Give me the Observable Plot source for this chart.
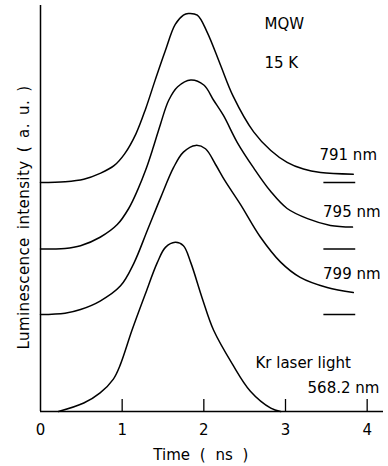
<!DOCTYPE html>
<html>
<head>
<meta charset="utf-8">
<script src="https://cdn.jsdelivr.net/npm/d3@7"></script>
<script src="https://cdn.jsdelivr.net/npm/@observablehq/plot@0.6"></script>
<style>
  html, body { margin: 0; padding: 0; background: #fff; }
  svg { display: block; }
</style>
</head>
<body>
<div id="chart"></div>
<script>
// ---- data ----
const seriesNames = ["791 nm", "795 nm", "799 nm", "Kr laser light"];
const offsets = [1.353, 0.960, 0.573, 0];   // vertical offset of each trace (a.u.)

const t791 = [0, 0.30, 0.53, 0.73, 0.90, 1.03, 1.17, 1.29, 1.40, 1.525, 1.65, 1.75, 1.81, 1.92, 2.04, 2.20, 2.36, 2.61, 2.82, 3.02, 3.22, 3.43, 3.83];
const v791 = [0, 0.005, 0.02, 0.055, 0.10, 0.17, 0.29, 0.44, 0.60, 0.775, 0.935, 0.99, 1.00, 0.99, 0.89, 0.70, 0.51, 0.30, 0.19, 0.12, 0.08, 0.06, 0.05];

const t795 = [0, 0.30, 0.49, 0.73, 0.94, 1.08, 1.19, 1.29, 1.38, 1.47, 1.57, 1.68, 1.84, 2.00, 2.12, 2.24, 2.41, 2.61, 2.82, 3.02, 3.27, 3.55, 3.82];
const v795 = [0, 0.004, 0.02, 0.07, 0.145, 0.24, 0.35, 0.47, 0.60, 0.74, 0.88, 0.96, 1.00, 0.97, 0.88, 0.79, 0.63, 0.48, 0.34, 0.24, 0.18, 0.14, 0.13];

const t799 = [0, 0.30, 0.49, 0.73, 0.98, 1.14, 1.31, 1.47, 1.63, 1.75, 1.90, 2.02, 2.14, 2.26, 2.45, 2.69, 2.94, 3.18, 3.51, 3.83];
const v799 = [0, 0.008, 0.03, 0.08, 0.17, 0.30, 0.50, 0.69, 0.87, 0.96, 1.00, 0.98, 0.89, 0.79, 0.65, 0.46, 0.31, 0.22, 0.16, 0.13];

const tKr = [0.22, 0.53, 0.73, 0.89, 0.98, 1.12, 1.28, 1.43, 1.53, 1.65, 1.75, 1.84, 1.98, 2.12, 2.35, 2.57, 2.82, 2.94];
const vKr = [0, 0.05, 0.11, 0.19, 0.28, 0.48, 0.69, 0.88, 0.97, 1.00, 0.98, 0.88, 0.67, 0.48, 0.28, 0.12, 0.02, 0];

const xTicks = [0, 1, 2, 3, 4];
const xTickMarks = [1, 2, 3, 4];
const baselineMarkerSpan = [3.47, 3.86];   // time range of the short zero-level markers

const xTitle = "Time ( ns )";
const yTitle = "Luminescence intensity ( a. u. )";

// ---- build rows ----
const times = [t791, t795, t799, tKr];
const values = [v791, v795, v799, vKr];
const rows = [];
seriesNames.forEach((name, s) => {
  times[s].forEach((t, i) => rows.push({series: name, t, y: values[s][i] + offsets[s]}));
});
const markerLevels = offsets.slice(0, 3);

const chart = Plot.plot({
  width: 388,
  height: 466,
  marginLeft: 40,
  marginRight: 5,
  marginTop: 5,
  marginBottom: 55,
  x: {domain: [0, 4.2], axis: null},
  y: {domain: [0, 2.4], axis: null},
  style: {fontFamily: "'DejaVu Sans', sans-serif", fontSize: "15px", color: "#000", background: "#fff"},
  marks: [
    // axis lines
    Plot.ruleX([0], {stroke: "#000", strokeWidth: 1.5}),
    Plot.ruleY([0], {stroke: "#000", strokeWidth: 1.5}),
    // inward tick marks
    Plot.axisX({ticks: xTickMarks, tickSize: 12, dy: -12, fill: "none", label: null, stroke: "#000", strokeWidth: 1.3}),
    // tick labels
    Plot.axisX({ticks: xTicks, tickSize: 0, tickPadding: 13, tickFormat: d => String(d), label: null, fontSize: 15, fill: "#000"}),
    // curves
    Plot.line(rows, {x: "t", y: "y", z: "series", curve: "catmull-rom", stroke: "#000", strokeWidth: 1.5}),
    // zero-level markers
    Plot.ruleY(markerLevels, {x1: baselineMarkerSpan[0], x2: baselineMarkerSpan[1], stroke: "#000", strokeWidth: 1.5}),
    // axis titles
    Plot.text([xTitle], {x: 1.963, frameAnchor: "bottom", dy: 48, lineAnchor: "bottom", textAnchor: "middle", fontSize: 15, fill: "#000"}),
    Plot.text([yTitle], {frameAnchor: "left", textAnchor: "middle", dx: -16, dy: 9, rotate: -90, fontSize: 15, fill: "#000"}),
    // annotations
    Plot.text(["MQW"], {x: 2.743, y: 2.26, textAnchor: "start", lineAnchor: "bottom", fontSize: 15, fill: "#000"}),
    Plot.text(["15 K"], {x: 2.743, y: 2.033, textAnchor: "start", lineAnchor: "bottom", fontSize: 15, fill: "#000"}),
    Plot.text([seriesNames[0]], {x: 3.416, y: 1.489, textAnchor: "start", lineAnchor: "bottom", fontSize: 15, fill: "#000"}),
    Plot.text([seriesNames[1]], {x: 3.46, y: 1.147, textAnchor: "start", lineAnchor: "bottom", fontSize: 15, fill: "#000"}),
    Plot.text([seriesNames[2]], {x: 3.46, y: 0.786, textAnchor: "start", lineAnchor: "bottom", fontSize: 15, fill: "#000"}),
    Plot.text([seriesNames[3]], {x: 2.632, y: 0.26, textAnchor: "start", lineAnchor: "bottom", fontSize: 15, fill: "#000"}),
    Plot.text(["568.2 nm"], {x: 3.27, y: 0.112, textAnchor: "start", lineAnchor: "bottom", fontSize: 15, fill: "#000"})
  ]
});
// widen spacing of the axis titles as in the original typesetting
d3.select(chart).selectAll("text")
  .filter(function() { return this.textContent === yTitle; })
  .style("word-spacing", "3px").style("letter-spacing", "0.4px");
d3.select(chart).selectAll("text")
  .filter(function() { return this.textContent === xTitle; })
  .style("word-spacing", "5px");
document.getElementById("chart").appendChild(chart);
</script>
</body>
</html>
